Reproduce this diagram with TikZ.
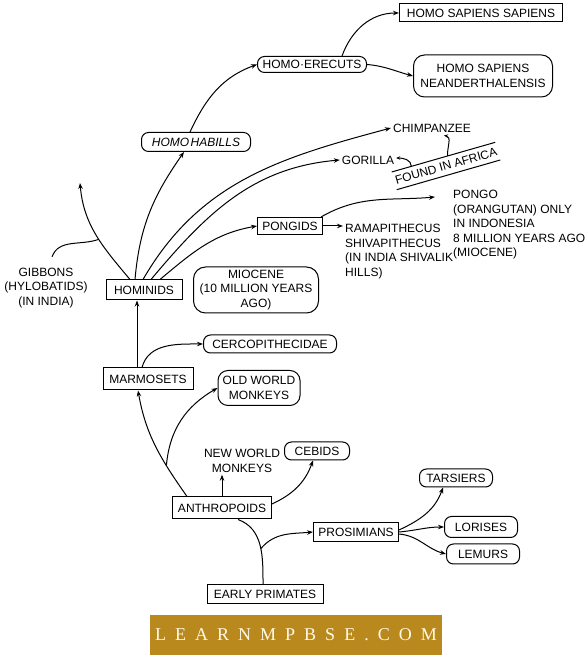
\documentclass[tikz,border=0pt]{standalone}
\usepackage{fontspec}
\setmainfont{Liberation Sans}
\newfontfamily\bannerfont[LetterSpace=50]{Liberation Serif}
\usepackage{xcolor}
\usepackage{tikz}
\usetikzlibrary{arrows.meta}
\definecolor{bannergold}{RGB}{185,137,30}
\definecolor{bannertext}{RGB}{255,249,232}

\begin{document}
\begin{tikzpicture}[
    x=1pt, y=1pt,
    every node/.style={font=\fontsize{12}{14.5}\selectfont},
    box/.style={rectangle, draw, line width=1pt, inner sep=2pt, align=center},
    rbox/.style={box, rounded corners=7pt},
    txt/.style={inner sep=2pt},
    arrow/.style={-{Stealth[length=6pt,width=4.5pt]}, line width=1pt},
    hook/.style={-{Stealth[length=4pt,width=3.5pt]}, line width=1pt},
    link/.style={line width=1pt}
]
    \useasboundingbox (0,0) rectangle (587,660);

    \node[box, minimum width=163pt, minimum height=18pt] (sapiens) at (481,647) {HOMO SAPIENS SAPIENS};
    \node[rbox, minimum width=109pt, minimum height=16pt] (erectus) at (312,595.5) {HOMO·ERECUTS};
    \node[rbox, rounded corners=11pt, minimum width=139pt, minimum height=42pt] (neander) at (483,584) {HOMO SAPIENS\\NEANDERTHALENSIS};
    \node[rbox, minimum width=109pt, minimum height=19pt] (habilis) at (196,518) {\itshape HOMO\kern1.5pt HABILLS};
    \node[txt] (chimp) at (432,532) {CHIMPANZEE};
    \node[txt] (gorilla) at (368,500) {GORILLA};
    \node[rotate=16, inner xsep=1pt, inner ysep=0pt, minimum height=18pt] (africa) at (446,494) {FOUND IN AFRICA};
    \node[txt, anchor=north west, align=left] (pongo) at (451,472) {PONGO\\(ORANGUTAN) ONLY\\IN INDONESIA\\8 MILLION YEARS AGO\\(MIOCENE)};
    \node[box, minimum width=65pt, minimum height=17pt] (pongids) at (290,434) {PONGIDS};
    \node[txt, anchor=north west, align=left] (rama) at (343,438) {RAMAPITHECUS\\SHIVAPITHECUS\\(IN INDIA SHIVALIK\\HILLS)};
    \node[box, minimum width=76pt, minimum height=20pt] (hominids) at (144,370) {HOMINIDS};
    \node[txt, align=center] (gibbons) at (46,372) {GIBBONS\\(HYLOBATIDS)\\(IN INDIA)};
    \node[rbox, rounded corners=12pt, minimum width=125pt, minimum height=46pt] (miocene) at (256,370) {MIOCENE\\(10 MILLION YEARS\\AGO)};
    \node[box, minimum width=90pt, minimum height=22pt] (marmosets) at (148,281) {MARMOSETS};
    \node[rbox, minimum width=133pt, minimum height=18pt] (cerco) at (270,316) {CERCOPITHECIDAE};
    \node[rbox, rounded corners=10pt, minimum width=82pt, minimum height=35pt] (oldworld) at (259,272) {OLD WORLD\\MONKEYS};
    \node[box, minimum width=99pt, minimum height=22pt] (anthropoids) at (222,152) {ANTHROPOIDS};
    \node[txt, align=center] (newworld) at (242,199) {NEW WORLD\\MONKEYS};
    \node[rbox, minimum width=65pt, minimum height=18pt] (cebids) at (317,209) {CEBIDS};
    \node[box, minimum width=85pt, minimum height=19pt] (prosimians) at (356,128) {PROSIMIANS};
    \node[box, minimum width=116pt, minimum height=19pt] (early) at (265,66) {EARLY PRIMATES};
    \node[rbox, minimum width=73pt, minimum height=18pt] (tarsiers) at (456,182) {TARSIERS};
    \node[rbox, minimum width=73pt, minimum height=21pt] (lorises) at (481,133) {LORISES};
    \node[rbox, minimum width=73pt, minimum height=20pt] (lemurs) at (483,106) {LEMURS};
    \node[fill=bannergold, text=bannertext, minimum width=292pt, minimum height=40pt, inner sep=0pt, font=\bannerfont\fontsize{18}{20}\selectfont] (banner) at (296,25) {LEARNMPBSE.COM};

    \draw[link] (africa.north west) -- coordinate[pos=0.19] (afgor) coordinate[pos=0.54] (afchimp) (africa.north east);
    \draw[link] (africa.south west) -- (africa.south east);
    \draw[hook] (afgor) to[out=90, in=0] ([yshift=2pt]gorilla.east);
    \draw[hook] (afchimp) to[out=95, in=-10] ([shift={(12pt,-1pt)}]chimp.south);

    \draw[arrow] ([xshift=30pt]erectus.north) to[out=70, in=180] (sapiens.west);
    \draw[arrow] (erectus.east) to[out=-5, in=165] (neander.west);
    \draw[arrow] ([xshift=-6pt]habilis.north) to[out=65, in=200] (erectus.west);
    \draw[arrow] ([xshift=-9pt]hominids.north) to[out=85, in=235] ([xshift=-12pt]habilis.south);
    \draw[arrow] ([xshift=-1pt]hominids.north) to[out=60, in=195] (chimp.west);
    \draw[arrow] ([xshift=7pt]hominids.north) to[out=50, in=185] (gorilla.west);
    \draw[arrow] ([xshift=16pt]hominids.north) to[out=40, in=190] (pongids.west);
    \coordinate (gibtip) at (80,477);
    \draw[arrow] ([xshift=-14pt]hominids.north) to[out=130, in=-85] coordinate[pos=0.45] (gibjoin) (gibtip);
    \draw[link] ([shift={(6pt,9pt)}]gibbons.north) to[out=70, in=200] (gibjoin);
    \draw[arrow] ([xshift=-2pt]pongids.north east) to[out=30, in=185] ([shift={(-16pt,-9pt)}]pongo.north west);
    \draw[arrow] (pongids.east) -- (pongids.east -| rama.west);
    \draw[arrow] ([xshift=-11pt]marmosets.north) -- ([xshift=-11pt]marmosets.north |- hominids.south);
    \draw[arrow] ([xshift=-6pt]marmosets.north) to[out=75, in=180] (cerco.west);
    \draw[arrow] ([xshift=-35pt]anthropoids.north) to[out=125, in=-80] coordinate[pos=0.3] (owjoin) ([xshift=-10pt]marmosets.south);
    \draw[arrow] (owjoin) to[out=85, in=210] (oldworld.west);
    \draw[arrow] (anthropoids.north) -- (anthropoids.north |- newworld.south);
    \draw[arrow] ([yshift=4pt]anthropoids.east) to[out=25, in=-110] ([xshift=-4pt]cebids.south);
    \draw[link] ([xshift=-2pt]early.north) to[out=90, in=-20] coordinate[pos=0.45] (projoin) ([xshift=16pt]anthropoids.south);
    \draw[arrow] (projoin) to[out=50, in=185] (prosimians.west);
    \draw[arrow] ([yshift=2pt]prosimians.east) to[out=25, in=-110] ([xshift=-13pt]tarsiers.south);
    \draw[arrow] (prosimians.east) to[out=5, in=180] (lorises.west);
    \draw[arrow] ([yshift=-2pt]prosimians.east) to[out=-5, in=165] (lemurs.west);
\end{tikzpicture}
\end{document}
